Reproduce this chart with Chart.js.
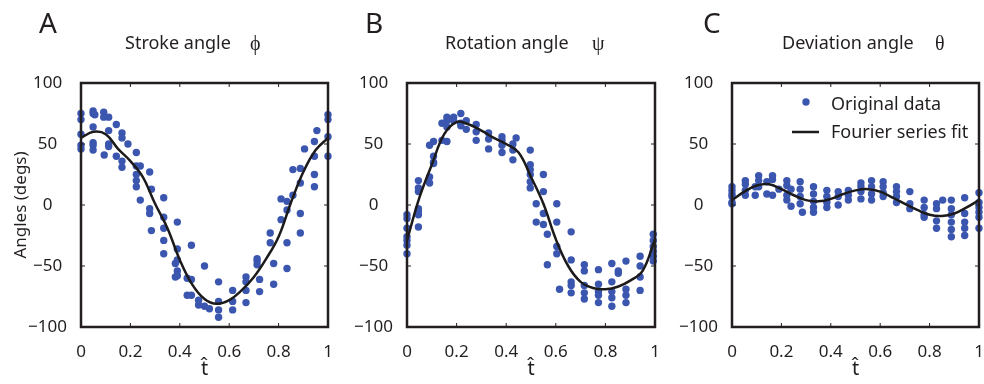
<!DOCTYPE html>
<html>
<head>
<meta charset="utf-8">
<script src="https://cdn.jsdelivr.net/npm/chart.js@4/dist/chart.umd.min.js"></script>
<style>
    body { margin: 0; background: #fff; width: 984px; height: 384px; overflow: hidden; position: relative; }
    canvas { position: absolute; top: 0; }
</style>
</head>
<body>
<canvas id="painelA" width="340" height="384" style="left:0px"></canvas>
<canvas id="painelB" width="340" height="384" style="left:330px"></canvas>
<canvas id="painelC" width="340" height="384" style="left:658px"></canvas>
<script>
// curva ajustada (serie de Fourier), lida a cada 0.05 de t
const tAjuste = [0, 0.05, 0.1, 0.15, 0.2, 0.25, 0.3, 0.35, 0.4, 0.45, 0.5, 0.55, 0.6, 0.65, 0.7, 0.75, 0.8, 0.85, 0.9, 0.95, 1];
const ajusteStroke = [55, 60, 58, 46, 36, 23, 1, -19, -45, -65, -77, -81, -78, -70, -59, -44, -26, 2, 27, 45, 55];
const ajusteRotation = [-29, 6, 33, 58, 68, 66, 61, 55, 50, 43, 23, 1, -28, -50, -63, -68, -69, -67, -62, -54, -28];
const ajusteDeviation = [4, 11, 16, 17, 13, 8, 4, 3, 5, 9, 12, 13, 11, 6, 1, -4, -8, -9, -7, -2, 4];

// dados originais: painel A (stroke)
const tStroke = [
    0, 0, 0, 0, 0,
    0.049, 0.049, 0.049, 0.049, 0.049, 0.049,
    0.056,
    0.092, 0.092,
    0.094,
    0.112, 0.112, 0.112, 0.112,
    0.143, 0.143,
    0.166, 0.166, 0.166, 0.166,
    0.19,
    0.224, 0.224, 0.224, 0.224, 0.224,
    0.24, 0.24,
    0.278, 0.278, 0.278,
    0.285, 0.285,
    0.335, 0.335, 0.335, 0.335, 0.335,
    0.382, 0.382,
    0.39, 0.39, 0.39, 0.39, 0.39,
    0.43, 0.43,
    0.447, 0.447, 0.447,
    0.476, 0.476,
    0.5, 0.5,
    0.52,
    0.557, 0.557, 0.557, 0.557,
    0.614, 0.614, 0.614,
    0.668, 0.668, 0.668, 0.668,
    0.713, 0.713, 0.713,
    0.723, 0.723,
    0.766, 0.766,
    0.78, 0.78,
    0.81, 0.81,
    0.834, 0.834, 0.834, 0.834,
    0.858, 0.858,
    0.888, 0.888, 0.888, 0.888,
    0.905,
    0.945, 0.945, 0.945, 0.945,
    0.955,
    1, 1, 1, 1
];
const phiStroke = [
    75, 70, 58, 49, 46,
    77, 75, 64, 51, 49, 45,
    74,
    76, 72,
    41,
    72, 61, 50, 48,
    66, 40,
    59, 55, 36, 31,
    50,
    43, 32, 25, 20, 15,
    32, 4,
    27, -3, -7,
    13, -21,
    6, -10, -19, -29, -40,
    -48, -59,
    -14, -36, -45, -54, -58,
    -60, -74,
    -33, -61, -74,
    -78, -82,
    -50, -83,
    -85,
    -63, -79, -86, -92,
    -70, -79, -86,
    -59, -63, -70, -80,
    -44, -46, -49,
    -61, -71,
    -23, -31,
    -48, -65,
    5, -12,
    3, -4, -31, -52,
    29, 8,
    30, 18, -7, -23,
    46,
    52, 40, 25, 15,
    61,
    74, 70, 56, 40
];

// painel B (rotation)
const tRotation = [
    0, 0, 0, 0, 0, 0, 0,
    0.046, 0.046, 0.046, 0.046, 0.046, 0.046, 0.046,
    0.091, 0.091, 0.091,
    0.107, 0.107, 0.107, 0.107,
    0.141, 0.141,
    0.161, 0.161, 0.161, 0.161,
    0.188, 0.188,
    0.217, 0.217, 0.217,
    0.239, 0.239,
    0.279, 0.279, 0.279,
    0.329, 0.329, 0.329,
    0.383, 0.383, 0.383, 0.383,
    0.427, 0.427, 0.427,
    0.44,
    0.497, 0.497, 0.497, 0.497, 0.497, 0.497,
    0.521, 0.521,
    0.55, 0.55, 0.55, 0.55,
    0.566, 0.566,
    0.604, 0.604, 0.604, 0.604,
    0.615,
    0.662, 0.662, 0.662, 0.662, 0.662,
    0.715, 0.715, 0.715, 0.715, 0.715,
    0.772, 0.772, 0.772, 0.772, 0.772,
    0.826, 0.826, 0.826, 0.826, 0.826,
    0.852, 0.852,
    0.883, 0.883, 0.883, 0.883,
    0.94, 0.94, 0.94, 0.94,
    0.993, 0.993, 0.993, 0.993, 0.993, 0.993
];
const psiRotation = [
    -8, -11, -19, -26, -29, -33, -40,
    20, 14, 11, -3, -5, -8, -18,
    49, 23, 18,
    52, 40, 35, 34,
    67, 53,
    72, 69, 64, 52,
    72, 69,
    75, 67, 65,
    69, 62,
    66, 60, 53,
    59, 54, 46,
    56, 53, 49, 43,
    50, 45, 37,
    55,
    45, 33, 29, 25, 19, 14,
    1, -14,
    25, 11, -7, -16,
    -24, -49,
    1, -14, -34, -40,
    -69,
    -22, -45, -63, -66, -72,
    -49, -54, -66, -72, -77,
    -53, -65, -71, -74, -80,
    -48, -63, -71, -76, -83,
    -54, -56,
    -46, -69, -74, -80,
    -42, -50, -59, -70,
    -24, -29, -34, -38, -42, -46
];

// painel C (deviation)
const tDeviation = [
    0, 0, 0, 0, 0, 0,
    0.054, 0.054, 0.054, 0.054,
    0.094, 0.094,
    0.108, 0.108, 0.108,
    0.141, 0.141,
    0.164, 0.164, 0.164,
    0.19,
    0.222, 0.222, 0.222, 0.222,
    0.239, 0.239,
    0.276, 0.276, 0.276, 0.276,
    0.285,
    0.33, 0.33, 0.33, 0.33, 0.33,
    0.384, 0.384, 0.384, 0.384,
    0.43, 0.43, 0.43,
    0.471, 0.471, 0.471,
    0.522, 0.522, 0.522, 0.522,
    0.565, 0.565, 0.565, 0.565,
    0.612, 0.612, 0.612, 0.612,
    0.666, 0.666, 0.666, 0.666,
    0.72, 0.72, 0.72,
    0.778, 0.778, 0.778, 0.778,
    0.828, 0.828, 0.828, 0.828,
    0.853,
    0.888, 0.888, 0.888, 0.888, 0.888, 0.888,
    0.942, 0.942, 0.942, 0.942, 0.942,
    1, 1, 1, 1, 1, 1
];
const thetaDeviation = [
    15, 12, 9, 7, 2, 1,
    20, 17, 12, 8,
    15, 8,
    24, 20, 15,
    19, 9,
    24, 21, 8,
    13,
    20, 16, 8, 4,
    13, -1,
    19, 13, 7, 1,
    -6,
    15, 9, 3, -2, -6,
    12, 7, 2, -2,
    11, 7, 0,
    12, 8, 4,
    18, 15, 11, 5,
    20, 15, 9, 4,
    19, 15, 10, 7,
    15, 11, 7, 2,
    11, 1, -3,
    4, -2, -8, -10,
    1, -3, -13, -19,
    4,
    4, -3, -8, -14, -20, -26,
    6, -7, -14, -19, -25,
    10, 2, -2, -6, -10, -19
];

const corPontos = `#3b56ae`;
const corLinha = `#1c1a1b`;
const corTexto = `#231f20`;
const fonte = `'Noto Sans', sans-serif`;

Chart.defaults.font.family = fonte;
Chart.defaults.color = corTexto;

const pontos = (ts, vs) => ts.map((t, i) => ({ x: t, y: vs[i] }));

// moldura preta (quatro lados) e marcas de escala para dentro, como no matlab
const molduraEixos = {
    id: 'molduraEixos',
    afterDraw(chart) {
        const ctx = chart.ctx;
        const { left, right, top, bottom } = chart.chartArea;
        const escalaX = chart.scales.x;
        const escalaY = chart.scales.y;
        const marca = 4;

        ctx.save();
        ctx.strokeStyle = corTexto;
        ctx.lineWidth = 2.5;
        ctx.lineCap = 'square';
        ctx.beginPath();
        ctx.moveTo(left, top);
        ctx.lineTo(right, top);
        ctx.lineTo(right, bottom);
        ctx.lineTo(left, bottom);
        ctx.closePath();
        ctx.stroke();

        ctx.lineWidth = 1;
        ctx.lineCap = 'butt';
        ctx.beginPath();
        escalaX.ticks.forEach(t => {
            const px = escalaX.getPixelForValue(t.value);
            ctx.moveTo(px, bottom);
            ctx.lineTo(px, bottom - marca);
            ctx.moveTo(px, top);
            ctx.lineTo(px, top + marca);
        });
        escalaY.ticks.forEach(t => {
            const py = escalaY.getPixelForValue(t.value);
            ctx.moveTo(left, py);
            ctx.lineTo(left + marca, py);
            ctx.moveTo(right, py);
            ctx.lineTo(right - marca, py);
        });
        ctx.stroke();
        ctx.restore();
    }
};

// letra do painel, titulo com simbolo grego e legenda do painel C
const rotulos = {
    id: 'rotulos',
    afterDraw(chart, args, opts) {
        const { ctx, chartArea: { left } } = chart;
        ctx.save();
        ctx.fillStyle = corTexto;
        ctx.textBaseline = 'alphabetic';
        ctx.font = `28px ${fonte}`;
        ctx.fillText(opts.letra, left + opts.xLetra, 33);
        ctx.font = `18px ${fonte}`;
        ctx.fillText(opts.titulo, left + opts.xTitulo, 49);
        ctx.font = `20px 'Liberation Serif', serif`;
        ctx.fillText(opts.simbolo, left + opts.xSimbolo, 50);

        if (opts.legenda) {
            const [linha, dados] = chart.data.datasets;
            ctx.font = `18px ${fonte}`;
            ctx.fillStyle = dados.backgroundColor;
            ctx.beginPath();
            ctx.arc(left + 74, 102, dados.pointRadius, 0, Math.PI * 2);
            ctx.fill();
            ctx.fillStyle = corTexto;
            ctx.fillText(dados.label, left + 99, 110);
            ctx.strokeStyle = linha.borderColor;
            ctx.lineWidth = linha.borderWidth;
            ctx.beginPath();
            ctx.moveTo(left + 60, 132);
            ctx.lineTo(left + 87, 132);
            ctx.stroke();
            ctx.fillText(linha.label, left + 99, 138);
        }
        ctx.restore();
    }
};

function criarPainel(idCanvas, ts, valores, ajuste, config) {
    const ctx = document.querySelector(idCanvas);

    return new Chart(ctx, {
        type: 'scatter',
        plugins: [molduraEixos, rotulos],
        data: {
            datasets: [
                {
                    label: 'Fourier series fit',
                    data: pontos(tAjuste, ajuste),
                    showLine: true,
                    tension: 0.4,
                    pointRadius: 0,
                    borderWidth: 2.5,
                    borderColor: corLinha,
                    clip: false
                },
                {
                    label: 'Original data',
                    data: pontos(ts, valores),
                    pointRadius: 3.7,
                    borderWidth: 0,
                    backgroundColor: corPontos,
                    clip: false
                }
            ]
        },
        options: {
            responsive: false,
            animation: false,
            events: [],
            layout: { padding: { top: 83, left: 0, right: config.margemDireita, bottom: 0 } },
            plugins: {
                legend: { display: false },
                tooltip: { enabled: false },
                rotulos: config.rotulos
            },
            scales: {
                x: {
                    type: 'linear',
                    min: 0,
                    max: 1,
                    grid: { display: false },
                    border: { display: false },
                    ticks: {
                        stepSize: 0.2,
                        padding: 7,
                        font: { size: 17 },
                        callback: v => String(Number(v.toFixed(1)))
                    },
                    title: {
                        display: true,
                        text: 't\u0302',
                        font: { size: 20 },
                        padding: { top: 0, bottom: 3 }
                    },
                    afterFit: escala => { escala.height = 57; }
                },
                y: {
                    min: -100,
                    max: 100,
                    grid: { display: false },
                    border: { display: false },
                    ticks: {
                        stepSize: 50,
                        padding: 6,
                        crossAlign: 'center',
                        font: { size: 17 },
                        callback: v => String(v).replace('-', '\u2212')
                    },
                    title: {
                        display: config.tituloY !== undefined,
                        text: config.tituloY,
                        font: { size: 17 },
                        padding: { top: 11, bottom: 0 }
                    },
                    afterFit: escala => { escala.width = config.larguraEixoY; }
                }
            }
        }
    });
}

criarPainel("#painelA", tStroke, phiStroke, ajusteStroke, {
    larguraEixoY: 81,
    margemDireita: 12,
    tituloY: 'Angles (degs)',
    rotulos: { letra: 'A', xLetra: -42, titulo: 'Stroke angle', xTitulo: 44, simbolo: 'ϕ', xSimbolo: 169 }
});

criarPainel("#painelB", tRotation, psiRotation, ajusteRotation, {
    larguraEixoY: 77,
    margemDireita: 15,
    rotulos: { letra: 'B', xLetra: -42, titulo: 'Rotation angle', xTitulo: 38, simbolo: 'ψ', xSimbolo: 185 }
});

criarPainel("#painelC", tDeviation, thetaDeviation, ajusteDeviation, {
    larguraEixoY: 74,
    margemDireita: 19,
    rotulos: { letra: 'C', xLetra: -29, titulo: 'Deviation angle', xTitulo: 50, simbolo: 'θ', xSimbolo: 203, legenda: true }
});
</script>
</body>
</html>
